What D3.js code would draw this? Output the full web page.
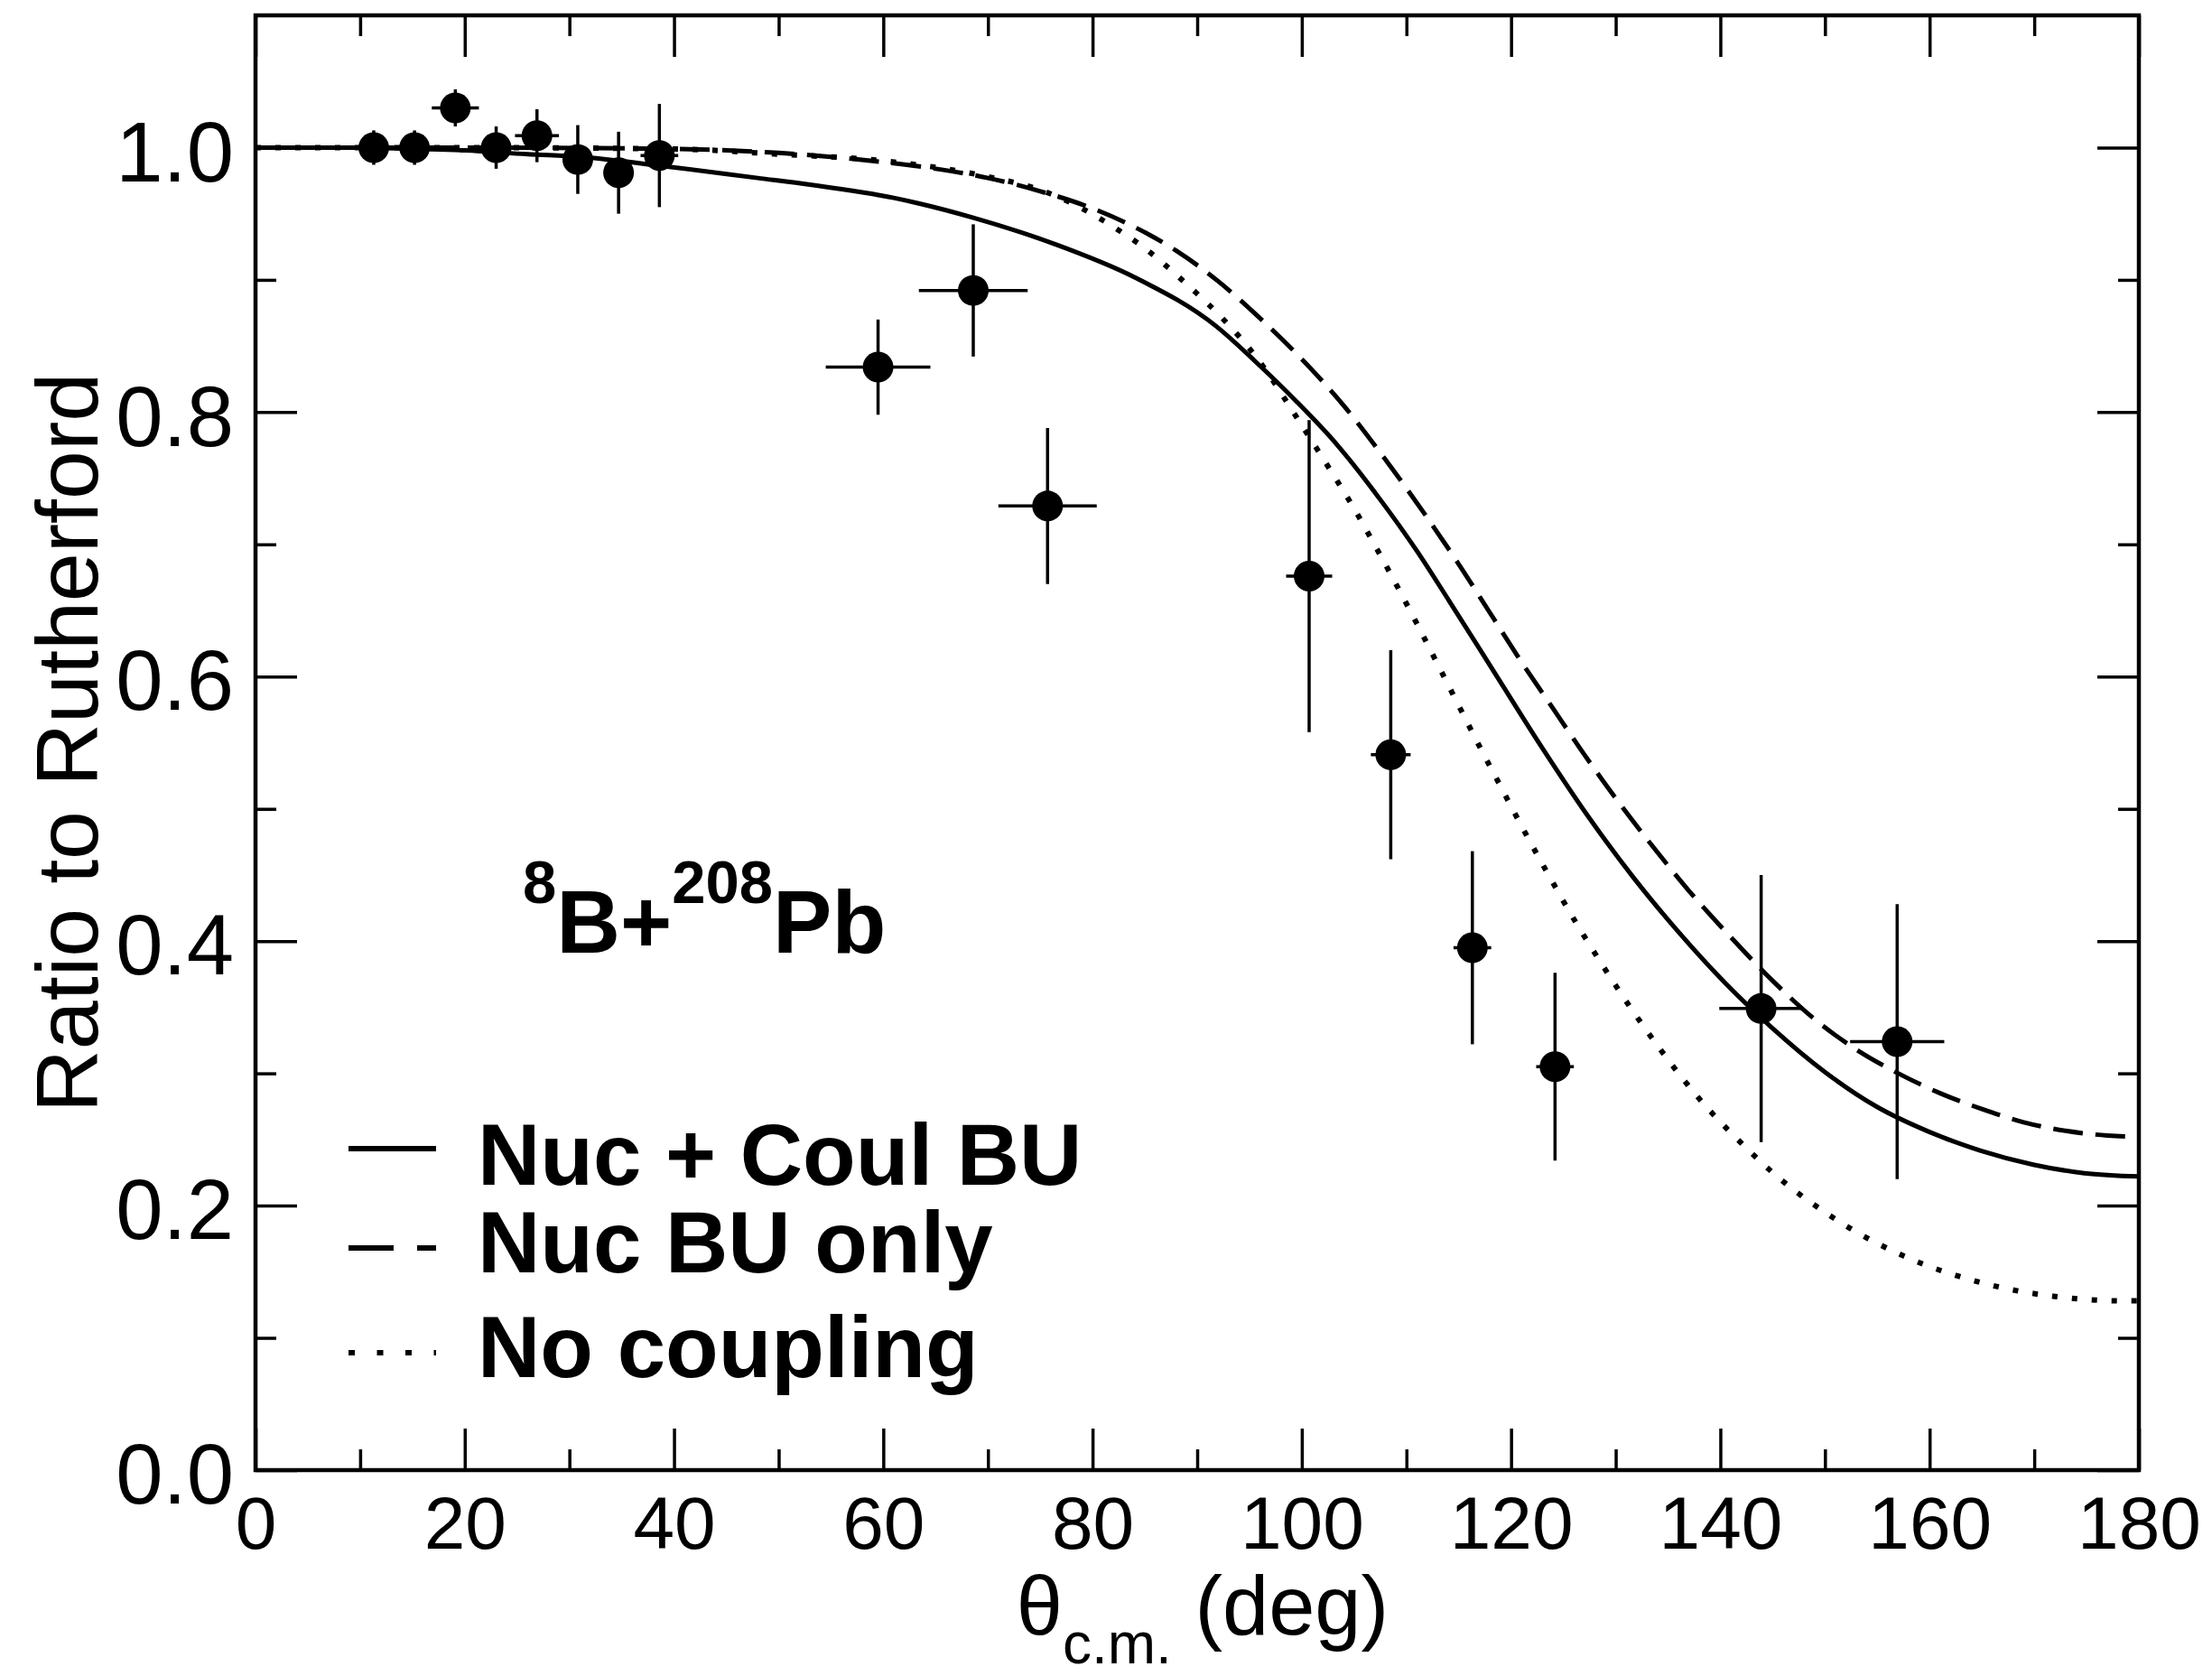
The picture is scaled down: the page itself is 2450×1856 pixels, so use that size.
<!DOCTYPE html>
<html>
<head>
<meta charset="utf-8">
<script src="https://cdn.jsdelivr.net/npm/d3@7"></script>
<style>
  body { margin: 0; background: #fff; }
  text { font-family: "Liberation Sans", Arial, Helvetica, sans-serif; fill: #000; }
</style>
</head>
<body>
<svg width="2450" height="1856"></svg>
<script>
    // measured points (8B + 208Pb elastic, ratio to Rutherford)
    var theta  = [11.3, 15.2, 19.1, 23.0, 26.9, 30.8, 34.7, 38.6, 59.5, 68.6, 75.7, 100.7, 108.5, 116.3, 124.2, 143.9, 156.9];
    var ratio  = [1.000, 1.000, 1.030, 1.000, 1.009, 0.991, 0.981, 0.994, 0.834, 0.892, 0.729, 0.676, 0.541, 0.395, 0.305, 0.349, 0.324];
    var dTheta = [0, 0, 2.25, 0, 2.1, 0, 0, 1.8, 5.0, 5.2, 4.7, 2.2, 1.9, 1.8, 1.8, 4.0, 4.5];
    var dRatio = [0.013, 0.013, 0.014, 0.016, 0.020, 0.026, 0.031, 0.039, 0.036, 0.050, 0.059, 0.118, 0.079, 0.073, 0.071, 0.101, 0.104];

    // calculations
    var solidTheta = [0, 10, 15, 20, 26, 31, 39, 48, 53, 61, 68.6, 76.4, 84, 91.8, 95.6, 99.5, 103.3, 107.2, 111, 114.1, 118.5, 122.9, 127.3, 131.7, 136.1, 140.5, 145, 150, 154.9, 159.9, 164.9, 169.9, 174.8, 180];
    var solidRatio = [1.0, 1.0, 0.999, 0.998, 0.995, 0.993, 0.986, 0.977, 0.972, 0.962, 0.947, 0.927, 0.902, 0.865, 0.838, 0.808, 0.776, 0.737, 0.695, 0.657, 0.602, 0.547, 0.495, 0.448, 0.406, 0.368, 0.334, 0.301, 0.275, 0.256, 0.2415, 0.231, 0.2245, 0.222];

    var dashTheta = [0, 20, 40, 50, 55, 60, 65, 70, 75, 80, 84, 88, 92, 96, 100, 104, 108, 112, 115, 118, 121, 124, 127, 130, 134, 137, 141, 145, 149, 153, 157, 161, 165, 169, 173, 177, 180];
    var dashRatio = [1.0, 1.0, 0.999, 0.996, 0.993, 0.989, 0.984, 0.977, 0.967, 0.954, 0.940, 0.922, 0.899, 0.871, 0.840, 0.805, 0.764, 0.720, 0.685, 0.648, 0.611, 0.576, 0.541, 0.508, 0.467, 0.438, 0.403, 0.370, 0.341, 0.318, 0.300, 0.285, 0.273, 0.263, 0.2565, 0.253, 0.252];

    var dotTheta = [0, 20, 40, 50, 60, 70, 75, 78, 81.6, 84.8, 89.1, 92.4, 95.6, 100, 102.5, 105, 107, 109, 111, 113, 115, 117, 119, 121, 123.3, 126.2, 128.8, 131.3, 133.9, 136.3, 139.2, 142.3, 145, 147, 150, 153, 156.4, 159.3, 162.6, 165.8, 168.8, 171.8, 175, 178.5, 180];
    var dotRatio = [1.0, 1.0, 0.999, 0.995, 0.990, 0.978, 0.968, 0.958, 0.942, 0.925, 0.896, 0.871, 0.842, 0.790, 0.759, 0.727, 0.699, 0.670, 0.640, 0.609, 0.578, 0.547, 0.517, 0.487, 0.454, 0.414, 0.381, 0.351, 0.322, 0.297, 0.270, 0.245, 0.225, 0.212, 0.195, 0.180, 0.166, 0.156, 0.147, 0.140, 0.135, 0.1315, 0.129, 0.128, 0.128];

    var legendNames = ['Nuc + Coul BU', 'Nuc BU only', 'No coupling'];

    // ticks
    var xTicks = [0, 20, 40, 60, 80, 100, 120, 140, 160, 180];
    var xMinor = [10, 30, 50, 70, 90, 110, 130, 150, 170];
    var yTicks = [0, 0.2, 0.4, 0.6, 0.8, 1.0];
    var yMinor = [0.1, 0.3, 0.5, 0.7, 0.9];

    var svg = d3.select('svg');
    var plotL = 283, plotR = 2369, plotT = 17, plotB = 1628;

    var x = d3.scaleLinear().domain([0, 180]).range([plotL, plotR]);
    var y = d3.scaleLinear().domain([0, 1.1]).range([plotB, plotT]);

    // axes: ticks point inward on all four sides
    function tickAxis(axis, vals, size, tr, fmt) {
        var g = svg.append('g').attr('transform', tr)
            .call(axis.tickValues(vals).tickSize(size).tickFormat(fmt || ''));
        g.select('.domain').remove();
        g.selectAll('line').attr('stroke', '#000').attr('stroke-width', 3.5);
        g.attr('font-family', null).attr('font-size', null);
        return g;
    }

    var gx = tickAxis(d3.axisBottom(x), xTicks, -46, 'translate(0,' + plotB + ')', d3.format('d'));
    gx.selectAll('text').attr('y', 87).attr('dy', null).attr('font-size', 82);
    tickAxis(d3.axisBottom(x), xMinor, -23, 'translate(0,' + plotB + ')');
    tickAxis(d3.axisTop(x), xTicks, -46, 'translate(0,' + plotT + ')');
    tickAxis(d3.axisTop(x), xMinor, -23, 'translate(0,' + plotT + ')');

    var gy = tickAxis(d3.axisLeft(y), yTicks, -46, 'translate(' + plotL + ',0)', d3.format('.1f'));
    gy.selectAll('text').attr('x', -24).attr('dy', '0.39em').attr('font-size', 94);
    tickAxis(d3.axisLeft(y), yMinor, -23, 'translate(' + plotL + ',0)');
    tickAxis(d3.axisRight(y), yTicks, -46, 'translate(' + plotR + ',0)');
    tickAxis(d3.axisRight(y), yMinor, -23, 'translate(' + plotR + ',0)');

    svg.append('rect')
        .attr('x', plotL).attr('y', plotT)
        .attr('width', plotR - plotL).attr('height', plotB - plotT)
        .attr('fill', 'none').attr('stroke', '#000').attr('stroke-width', 4.5);

    // curves
    var line = d3.line()
        .x(function (d) { return x(d[0]); })
        .y(function (d) { return y(d[1]); })
        .curve(d3.curveMonotoneX);

    var curves = [
        { t: solidTheta, r: solidRatio, dash: null, w: 5 },
        { t: dashTheta, r: dashRatio, dash: '33,14', w: 5 },
        { t: dotTheta, r: dotRatio, dash: '6,16', w: 6 }
    ];
    curves.forEach(function (c) {
        svg.append('path')
            .attr('d', line(d3.zip(c.t, c.r)))
            .attr('fill', 'none')
            .attr('stroke', '#000')
            .attr('stroke-width', c.w)
            .attr('stroke-dasharray', c.dash);
    });

    // data points with error bars
    var pts = d3.range(theta.length).map(function (i) {
        return { t: theta[i], r: ratio[i], dt: dTheta[i], dr: dRatio[i] };
    });
    var gp = svg.append('g').attr('stroke', '#000').attr('stroke-width', 3.5);
    gp.selectAll('.ey').data(pts).enter().append('line')
        .attr('x1', function (d) { return x(d.t); })
        .attr('x2', function (d) { return x(d.t); })
        .attr('y1', function (d) { return y(d.r - d.dr); })
        .attr('y2', function (d) { return y(d.r + d.dr); });
    gp.selectAll('.ex').data(pts.filter(function (d) { return d.dt > 0; })).enter().append('line')
        .attr('x1', function (d) { return x(d.t - d.dt); })
        .attr('x2', function (d) { return x(d.t + d.dt); })
        .attr('y1', function (d) { return y(d.r); })
        .attr('y2', function (d) { return y(d.r); });
    svg.selectAll('.pt').data(pts).enter().append('circle')
        .attr('cx', function (d) { return x(d.t); })
        .attr('cy', function (d) { return y(d.r); })
        .attr('r', 17)
        .attr('fill', '#000');

    // axis titles
    var xt = svg.append('text')
        .attr('x', (plotL + plotR) / 2 + 6).attr('y', 1810)
        .attr('text-anchor', 'middle').attr('font-size', 92);
    xt.append('tspan').text('θ');
    xt.append('tspan').attr('font-size', 64).attr('dy', 32).text('c.m.');
    xt.append('tspan').attr('dy', -32).text(' (deg)');

    svg.append('text')
        .attr('transform', 'translate(108,' + (plotT + plotB) / 2 + ') rotate(-90)')
        .attr('text-anchor', 'middle').attr('font-size', 97)
        .text('Ratio to Rutherford');

    // reaction label
    var lab = svg.append('text').attr('x', 579).attr('y', 1055)
        .attr('font-weight', 'bold').attr('font-size', 98);
    lab.append('tspan').attr('font-size', 67).attr('dy', -55).text('8');
    lab.append('tspan').attr('dy', 55).text('B+');
    lab.append('tspan').attr('font-size', 67).attr('dy', -55).text('208');
    lab.append('tspan').attr('dy', 55).text('Pb');

    // legend
    var legSampleY = [1272, 1382, 1498];
    var legTextY = [1312, 1409, 1525];
    var legDash = [null, '50,26', '7,24.5'];
    legendNames.forEach(function (name, i) {
        svg.append('line')
            .attr('x1', 386).attr('x2', 483)
            .attr('y1', legSampleY[i]).attr('y2', legSampleY[i])
            .attr('stroke', '#000').attr('stroke-width', 6)
            .attr('stroke-dasharray', legDash[i]);
        svg.append('text')
            .attr('x', 529).attr('y', legTextY[i])
            .attr('font-weight', 'bold').attr('font-size', 96)
            .text(name);
    });
</script>
</body>
</html>
